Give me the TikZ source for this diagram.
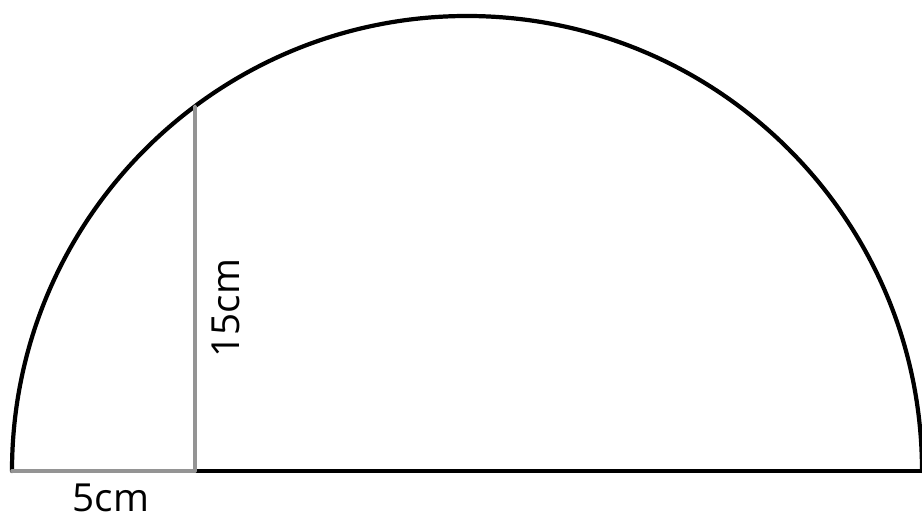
\documentclass[tikz,border=0pt]{standalone}
\usepackage{fontspec}
\setmainfont{Open Sans}
\usetikzlibrary{arrows.meta,calc}
\tikzset{
  every picture/.style={line join=round, line cap=round, >=Stealth},
  rim/.style={line width=2.4pt, black},
  chord/.style={line width=2.1pt, black!42},
  lbl/.style={font=\fontsize{22}{26}\selectfont, inner sep=0pt},
}

\begin{document}
\begin{tikzpicture}[x=0.02cm,y=-0.02cm]
\useasboundingbox (0,0) rectangle (922,519);
% points
\coordinate (O) at (467,471);
\coordinate (A) at (12,471);
\coordinate (B) at (922,471);
\coordinate (F) at (195,471);
\coordinate (T) at ($(O)+(-126.71:455)$);
% semicircle
\draw[rim] (B) arc[start angle=0, end angle=-180, radius=455];
\draw[rim] (F)--(B);
% chord and foot
\draw[chord] (A)--(F);
\draw[chord] (F)--(T);
% labels
\node[lbl] (L5) at (111,498) {5cm};
\node[lbl, rotate=90] (L15) at (226,308) {15cm};
\end{tikzpicture}
\end{document}
